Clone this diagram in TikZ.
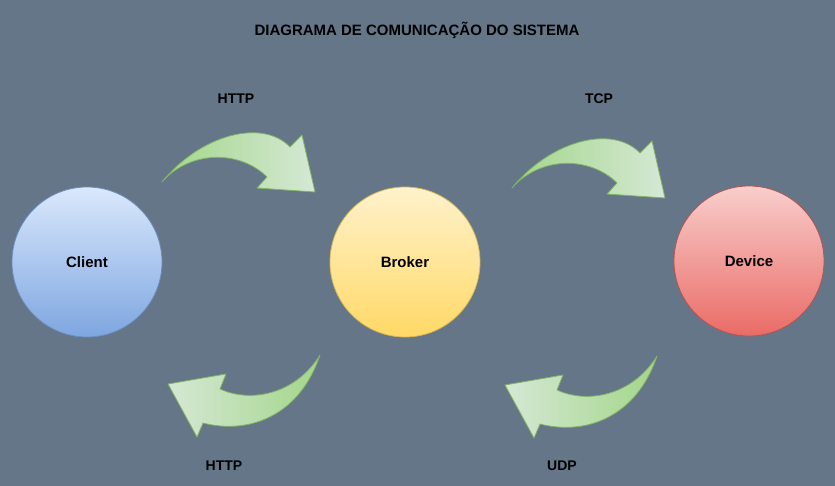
\documentclass[tikz,border=0pt]{standalone}
\usepackage{fontspec}
\setmainfont{Liberation Sans}
\usetikzlibrary{positioning}
\definecolor{bggray}{HTML}{647687}
\definecolor{blueA}{HTML}{DAE8FC}
\definecolor{blueB}{HTML}{7EA6E0}
\definecolor{blueL}{HTML}{6C8EBF}
\definecolor{yellowA}{HTML}{FFF2CC}
\definecolor{yellowB}{HTML}{FFD966}
\definecolor{yellowL}{HTML}{D6B656}
\definecolor{redA}{HTML}{F8CECC}
\definecolor{redB}{HTML}{EA6B66}
\definecolor{redL}{HTML}{B85450}
\definecolor{greenA}{HTML}{D5E8D4}
\definecolor{greenB}{HTML}{A3D68A}
\definecolor{greenL}{HTML}{82B366}
\tikzset{
  station/.style={circle, draw, line width=0.8pt, minimum size=150pt, inner sep=0pt,
    font=\bfseries\fontsize{15}{17}\selectfont},
  proto/.style={font=\bfseries\fontsize{14}{16}\selectfont},
  bigarrow/.style={draw=greenL, line width=0.8pt, line join=round},
  % arrow bending over, tail at the pic origin
  arcover/.pic={
    \path[bigarrow, left color=greenB, right color=greenA]
      (0,0) .. controls (38,-47) and (100,-64) .. (128,-35)
      -- (140,-47) -- (153,10) -- (95,6) -- (105,-5)
      .. controls (78,-32) and (28,-32) .. (0,0) -- cycle;
  },
  % arrow bending under, tail at the pic origin
  arcunder/.pic={
    \path[bigarrow, left color=greenA, right color=greenB]
      (0,0) .. controls (-20,60) and (-70,80) .. (-117,68)
      -- (-123,82) -- (-152,29) -- (-94,19) -- (-100,34)
      .. controls (-70,48) and (-25,40) .. (0,0) -- cycle;
  }
}
\begin{document}
\begin{tikzpicture}[x=1pt,y=-1pt]
  \fill[bggray] (0,0) rectangle (835,486);
  \useasboundingbox (0,0) rectangle (835,486);

  \node[proto, font=\bfseries\fontsize{15}{17}\selectfont] (title) at (417,30) {DIAGRAMA DE COMUNICAÇÃO DO SISTEMA};

  \node[station, draw=blueL, top color=blueA, bottom color=blueB] (client) at (87,262) {Client};
  \node[station, draw=yellowL, top color=yellowA, bottom color=yellowB] (broker) at (405,262) {Broker};
  \node[station, draw=redL, top color=redA, bottom color=redB] (device) at (749,261) {Device};

  \pic at (162,182) {arcover};
  \pic at (512,188) {arcover};
  \pic at (320,355) {arcunder};
  \pic at (657,356) {arcunder};

  \node[proto] (httpup) at (236,99) {HTTP};
  \node[proto] (tcp) at (599,99) {TCP};
  \node[proto] (httpdown) at (224,466) {HTTP};
  \node[proto] (udp) at (562,466) {UDP};
\end{tikzpicture}
\end{document}
